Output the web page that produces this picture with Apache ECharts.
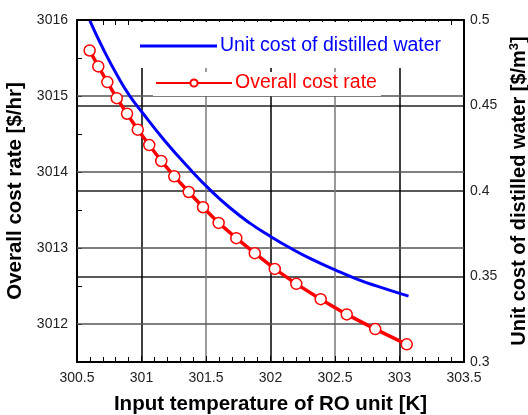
<!DOCTYPE html>
<html><head><meta charset="utf-8">
<script src="https://cdn.jsdelivr.net/npm/echarts@6/dist/echarts.min.js"></script>
<style>html,body{margin:0;padding:0;background:#fff}#c{width:528px;height:415px}</style>
</head><body><div id="c"></div>
<script>
// Red series: overall cost rate
const temperature = [300.598, 300.665, 300.735, 300.808, 300.888, 300.971, 301.060, 301.153, 301.254, 301.366,
  301.477, 301.598, 301.735, 301.878, 302.033, 302.200, 302.389, 302.591, 302.812, 303.056];
const overallCost = [3015.599, 3015.389, 3015.183, 3014.972, 3014.767, 3014.557, 3014.355, 3014.145, 3013.943, 3013.737,
  3013.536, 3013.330, 3013.129, 3012.932, 3012.725, 3012.528, 3012.327, 3012.126, 3011.933, 3011.732];
// Blue series: unit cost of distilled water
const unitTemp = [300.60, 300.71, 300.82, 300.91, 301.00, 301.18, 301.38, 301.53, 301.69, 301.84,
  302.00, 302.15, 302.31, 302.50, 302.67, 302.82, 303.07];
const unitCost = [0.4995, 0.4820, 0.4665, 0.4555, 0.4465, 0.4294, 0.4124, 0.4008, 0.3899, 0.3812,
  0.3734, 0.3668, 0.3604, 0.3539, 0.3485, 0.3445, 0.3385];
// Axis ticks
const xTicks = [300.5, 301, 301.5, 302, 302.5, 303, 303.5];
const leftTicks = [3012, 3013, 3014, 3015, 3016];
const rightTicks = [0.3, 0.35, 0.4, 0.45, 0.5];

const FONT = 'Liberation Sans, Arial, sans-serif';
const chart = echarts.init(document.getElementById('c'));
const xCommon = {
  type: 'value', min: xTicks[0], max: xTicks[xTicks.length - 1], interval: 0.5,
  axisLine: { show: true, lineStyle: { color: '#000', width: 2 } },
  axisTick: { show: true, inside: true, length: 6, lineStyle: { color: '#000', width: 1 } },
  minorTick: { show: true, splitNumber: 5, length: 5, lineStyle: { color: '#000', width: 1 } }
};
chart.setOption({
  animation: false,
  textStyle: { fontFamily: FONT },
  grid: { left: 77, right: 64, top: 20, bottom: 53, containLabel: false, outerBoundsMode: 'none' },
  legend: [
    { data: [{ name: 'Unit cost of distilled water', icon: 'rect' }], left: 138, top: 22, itemWidth: 77, itemHeight: 3, itemGap: 0,
      backgroundColor: '#fff', padding: [14, 4, 12, 2], z: 4,
      textStyle: { fontSize: 19.5, color: '#0000ff', fontFamily: FONT, padding: [0, 0, 0, -2] } },
    { data: ['Overall cost rate'], left: 153, top: 72, itemWidth: 76, itemHeight: 9, itemGap: 0,
      backgroundColor: '#fff', padding: [1, 4, 3, 2], z: 4,
      textStyle: { fontSize: 19.5, color: '#ff0000', fontFamily: FONT, padding: [0, 0, 0, -2] } }
  ],
  xAxis: [
    Object.assign({}, xCommon, {
      position: 'bottom',
      name: 'Input temperature of RO unit [K]', nameLocation: 'middle', nameGap: 32,
      nameTextStyle: { fontSize: 20.5, fontWeight: 'bold', color: '#000', fontFamily: FONT },
      axisLabel: { show: true, fontSize: 14, color: '#222', margin: 9 },
      splitLine: { show: true, lineStyle: { color: ['#7a7a7a', '#000'], width: 1.5 } }
    }),
    Object.assign({}, xCommon, { position: 'top', axisLabel: { show: false }, splitLine: { show: false } })
  ],
  yAxis: [
    { type: 'value', position: 'left', min: 3011.5, max: leftTicks[leftTicks.length - 1], interval: 0.5,
      name: 'Overall cost rate [$/hr]', nameLocation: 'middle', nameGap: 46, nameRotate: 90,
      nameTextStyle: { fontSize: 20.5, fontWeight: 'bold', color: '#000', fontFamily: FONT },
      axisLine: { show: true, lineStyle: { color: '#000', width: 2 } },
      axisTick: { show: true, inside: true, length: 5, lineStyle: { color: '#000' } },
      axisLabel: { fontSize: 14, color: '#222', margin: 9,
        formatter: v => (leftTicks.indexOf(Math.round(v * 2) / 2) >= 0 ? String(v) : '') },
      splitLine: { show: false } },
    { type: 'value', position: 'right', min: rightTicks[0], max: rightTicks[rightTicks.length - 1], interval: 0.05,
      name: 'Unit cost of distilled water [$/m{sup|3}]', nameLocation: 'middle', nameGap: 31, nameRotate: 90,
      nameTextStyle: { fontSize: 20, fontWeight: 'bold', color: '#000', fontFamily: FONT,
        rich: { sup: { fontSize: 13, fontWeight: 'bold', verticalAlign: 'top', padding: [0, 0, 9, 0], fontFamily: FONT } } },
      axisLine: { show: true, lineStyle: { color: '#000', width: 2 } },
      axisTick: { show: false },
      axisLabel: { fontSize: 14, color: '#222', margin: 6 },
      splitLine: { show: true, lineStyle: { color: '#222', width: 1.5 } } }
  ],
  series: [
    { name: 'Unit cost of distilled water', type: 'line', xAxisIndex: 0, yAxisIndex: 1, smooth: 0.5,
      showSymbol: false, symbol: 'none', data: unitTemp.map((t, i) => [t, unitCost[i]]),
      lineStyle: { color: '#0000ff', width: 3 }, itemStyle: { color: '#0000ff' }, z: 3 },
    { name: 'Overall cost rate', type: 'line', xAxisIndex: 0, yAxisIndex: 0,
      symbol: 'circle', symbolSize: 11, data: temperature.map((t, i) => [t, overallCost[i]]),
      lineStyle: { color: '#ff0000', width: 3.5 },
      itemStyle: { color: '#fff', borderColor: '#ff0000', borderWidth: 1.5 }, z: 3,
      markLine: { silent: true, symbol: 'none', z: 1, animation: false, label: { show: false },
        lineStyle: { color: '#555', width: 1.5, type: 'solid' },
        data: leftTicks.slice(0, -1).map(v => ({ yAxis: v })) } }
  ]
});
</script></body></html>
